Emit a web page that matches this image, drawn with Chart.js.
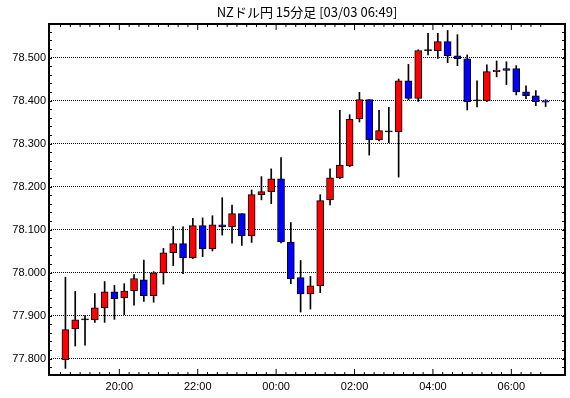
<!DOCTYPE html>
<html lang="ja">
<head>
<meta charset="utf-8">
<script src="https://cdn.jsdelivr.net/npm/chart.js@4.4.1/dist/chart.umd.min.js"></script>
<style>
    html, body { margin: 0; padding: 0; background: #fff; }
</style>
</head>
<body>
<canvas id="chart" width="570" height="398"></canvas>

<script>
    // NZD/JPY 15-minute candles, 18:30 - 06:45
    const times = ["18:30","18:45","19:00","19:15","19:30","19:45","20:00","20:15","20:30","20:45",
                   "21:00","21:15","21:30","21:45","22:00","22:15","22:30","22:45","23:00","23:15",
                   "23:30","23:45","00:00","00:15","00:30","00:45","01:00","01:15","01:30","01:45",
                   "02:00","02:15","02:30","02:45","03:00","03:15","03:30","03:45","04:00","04:15",
                   "04:30","04:45","05:00","05:15","05:30","05:45","06:00","06:15","06:30","06:45"];
    const open  = [77.797,77.869,77.890,77.890,77.918,77.955,77.941,77.957,77.983,77.946,
                   77.999,78.046,78.067,78.034,78.109,78.055,78.111,78.106,78.137,78.085,
                   78.181,78.188,78.218,78.071,77.988,77.950,77.969,78.169,78.220,78.248,
                   78.357,78.402,78.309,78.327,78.327,78.446,78.405,78.516,78.516,78.537,
                   78.504,78.497,78.399,78.399,78.467,78.474,78.474,78.420,78.411,78.399];
    const high  = [77.989,77.956,77.900,77.951,77.979,77.970,77.974,77.995,78.029,78.002,
                   78.056,78.107,78.106,78.126,78.127,78.132,78.174,78.157,78.137,78.192,
                   78.223,78.241,78.267,78.116,78.028,77.991,78.181,78.241,78.377,78.367,
                   78.419,78.402,78.377,78.384,78.450,78.484,78.518,78.556,78.556,78.563,
                   78.553,78.506,78.446,78.483,78.492,78.490,78.481,78.434,78.423,78.402];
    const low   = [77.777,77.829,77.831,77.884,77.884,77.891,77.902,77.924,77.933,77.931,
                   77.973,78.016,77.997,78.032,78.037,78.050,78.087,78.068,78.063,78.070,
                   78.169,78.160,78.069,77.974,77.908,77.915,77.953,78.157,78.218,78.246,
                   78.350,78.273,78.306,78.302,78.222,78.402,78.398,78.506,78.498,78.488,
                   78.481,78.378,78.385,78.397,78.455,78.437,78.413,78.404,78.388,78.386];
    const close = [77.867,77.890,77.890,77.918,77.955,77.939,77.957,77.986,77.946,77.999,
                   78.046,78.067,78.034,78.109,78.055,78.111,78.106,78.137,78.085,78.181,
                   78.188,78.218,78.071,77.985,77.950,77.969,78.167,78.220,78.250,78.357,
                   78.402,78.309,78.330,78.327,78.446,78.405,78.516,78.516,78.537,78.504,
                   78.497,78.397,78.399,78.467,78.471,78.470,78.420,78.411,78.397,78.396];

    const xTickLabels = ["20:00","22:00","00:00","02:00","04:00","06:00"];
    const yTickValues = [77.8, 77.9, 78.0, 78.1, 78.2, 78.3, 78.4, 78.5];

    const UP = "#ff0000";
    const DOWN = "#0000ff";
    const tickFont = { family: "'Liberation Sans', Arial, sans-serif", size: 11 };

    const wicks = times.map((t, i) => ({ x: i, y: [low[i], high[i]] }));
    const bodies = times.map((t, i) => ({ x: i, y: [open[i], close[i]] }));
    const bodyColors = times.map((t, i) => close[i] > open[i] ? UP : (close[i] < open[i] ? DOWN : "#000"));

    // frame + inward tick marks on all four sides
    const frameTicks = {
        id: "frameTicks",
        afterDatasetsDraw(chart) {
            const { ctx, chartArea: a, scales: { x, y } } = chart;
            ctx.save();
            ctx.strokeStyle = "#000";
            ctx.lineWidth = 1;
            ctx.beginPath();
            x.ticks.forEach(t => {
                const px = x.getPixelForValue(t.value);
                const len = t.label ? 6 : 3;
                ctx.moveTo(px, a.bottom); ctx.lineTo(px, a.bottom - len);
                ctx.moveTo(px, a.top); ctx.lineTo(px, a.top + len);
            });
            for (let n = Math.ceil(y.min / 0.02); n * 0.02 <= y.max; n++) {
                const py = Math.round(y.getPixelForValue(n * 0.02)) + 0.5;
                ctx.moveTo(a.left, py); ctx.lineTo(a.left + 3, py);
                ctx.moveTo(a.right, py); ctx.lineTo(a.right - 3, py);
            }
            ctx.stroke();
            ctx.lineWidth = 2;
            ctx.strokeRect(a.left, a.top, a.right - a.left, a.bottom - a.top);
            ctx.restore();
        }
    };

    const ch = new Chart(document.getElementById("chart"), {
        type: "bar",
        data: {
            datasets: [
                {
                    label: "body",
                    data: bodies,
                    backgroundColor: bodyColors,
                    borderColor: "#000",
                    borderWidth: 1,
                    borderSkipped: false,
                    barThickness: 7,
                    minBarLength: 1,
                    grouped: false,
                    order: 1
                },
                {
                    label: "wick",
                    data: wicks,
                    backgroundColor: "#000",
                    borderWidth: 0,
                    barThickness: 1,
                    grouped: false,
                    order: 2
                }
            ]
        },
        options: {
            responsive: false,
            animation: false,
            layout: { padding: { left: 0, right: 5, top: 0, bottom: 0 } },
            plugins: {
                legend: { display: false },
                tooltip: { enabled: false },
                title: {
                    display: true,
                    text: "NZドル円 15分足 [03/03 06:49]",
                    color: "#000",
                    fullSize: false,
                    font: { family: "'Noto Sans CJK JP', sans-serif", size: 13, weight: "normal", lineHeight: 1.2 },
                    padding: { top: 4.5, bottom: 3.9 }
                }
            },
            scales: {
                x: {
                    type: "linear",
                    min: -1.15,
                    max: 50.45,
                    afterBuildTicks: s => { s.ticks = times.map((t, i) => ({ value: i - 0.5 })); },
                    ticks: {
                        autoSkip: false,
                        maxRotation: 0,
                        minRotation: 0,
                        padding: 5,
                        color: "#000",
                        font: tickFont,
                        callback: v => {
                            const t = times[Math.round(v + 0.5)];
                            return xTickLabels.includes(t) ? t : "";
                        }
                    },
                    grid: { display: false, drawTicks: false },
                    border: { display: false },
                    afterFit: s => { s.height = 23; }
                },
                y: {
                    min: 77.76163,
                    max: 78.57791,
                    afterBuildTicks: s => { s.ticks = yTickValues.map(v => ({ value: v })); },
                    ticks: {
                        padding: 3,
                        color: "#000",
                        font: tickFont,
                        callback: v => v.toFixed(3)
                    },
                    grid: { color: "#000", lineWidth: 1, drawTicks: false },
                    border: { display: false, dash: [1, 1] },
                    afterFit: s => { s.width = 49; }
                }
            }
        },
        plugins: [frameTicks]
    });
</script>
</body>
</html>
